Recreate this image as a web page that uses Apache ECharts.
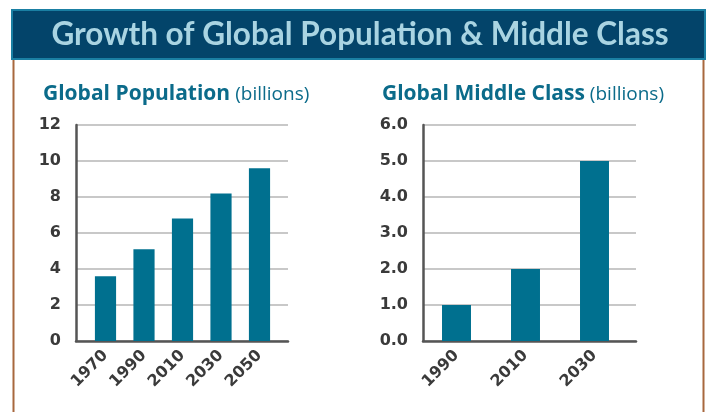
<!DOCTYPE html>
<html><head><meta charset="utf-8">
<script src="https://cdn.jsdelivr.net/npm/echarts@6/dist/echarts.min.js"></script>
<style>html,body{margin:0;padding:0;background:#fff}#c{width:709px;height:412px}</style>
</head><body><div id="c"></div>
<script>
const popYears = ['1970','1990','2010','2030','2050'];
const popValues = [3.6, 5.1, 6.8, 8.2, 9.6];
const popTicks = [0, 2, 4, 6, 8, 10, 12];
const mcYears = ['1990','2010','2030'];
const mcValues = [1.0, 2.0, 5.0];
const mcTicks = ['0.0','1.0','2.0','3.0','4.0','5.0','6.0'];

const HFONT = 'Lato, "Noto Sans", sans-serif';
const TFONT = '"Open Sans", "Noto Sans", sans-serif';
const NFONT = '"DejaVu Sans", sans-serif';
const BAR = '#00708f';
const TEAL = '#0b6b8a';
const LBL = '#3a3a3a';
const chart = echarts.init(document.getElementById('c'), null, {renderer:'canvas'});

function yAxisBase(gi, max, interval, fmt){
  return {gridIndex:gi, type:'value', min:0, max:max, interval:interval,
    axisLine:{show:true, lineStyle:{color:'#555', width:2.5}},
    axisTick:{show:false},
    splitLine:{show:true, lineStyle:{color:'#c8c8c8', width:2}},
    axisLabel:{color:LBL, fontFamily:NFONT, fontWeight:'bold', fontSize:16, margin:15, formatter:fmt}};
}
function yHidden(gi, max){ return {gridIndex:gi, type:'value', min:0, max:max, show:false}; }
function xFrame(gi, n){ return {gridIndex:gi, type:'category', data:Array(n).fill(''),
    axisLine:{show:true, lineStyle:{color:'#555', width:2.5}}, axisTick:{show:false}, axisLabel:{show:false}}; }
function xCats(gi, data){ return {gridIndex:gi, type:'category', data:data,
    axisLine:{show:false}, axisTick:{show:false},
    axisLabel:{rotate:45, margin:12, color:LBL, fontFamily:NFONT, fontWeight:'bold', fontSize:16}}; }

const titleRich = {b:{fontFamily:TFONT, fontWeight:'bold', fontSize:21, color:TEAL},
                   n:{fontFamily:TFONT, fontWeight:'normal', fontSize:19, color:TEAL}};
chart.setOption({
  animation:false,
  graphic:[
    {type:'rect', shape:{x:12, y:10, width:693, height:49}, style:{fill:'#03446a', stroke:'#1a7fa3', lineWidth:2}},
    {type:'text', x:360, y:35, style:{text:'Growth of Global Population & Middle Class', fill:'#a9d4e2',
      font:'bold 31.5px ' + HFONT, align:'center', verticalAlign:'middle'}},
    {type:'rect', shape:{x:12.5, y:60, width:2, height:352}, style:{fill:'#a8683e'}},
    {type:'rect', shape:{x:702.5, y:60, width:2, height:352}, style:{fill:'#a8683e'}}
  ],
  title:[
    {text:'{b|Global Population} {n|(billions)}', left:38, top:79, textStyle:{fontWeight:'normal', rich:titleRich}},
    {text:'{b|Global Middle Class} {n|(billions)}', left:377, top:79, textStyle:{fontWeight:'normal', rich:titleRich}}
  ],
  grid:[
    {left:76, top:125, width:212, height:216},
    {left:86.25, top:125, width:192.5, height:216},
    {left:423, top:125, width:213, height:216},
    {left:422, top:125, width:207, height:216}
  ],
  xAxis:[ xFrame(0, popYears.length), xCats(1, popYears), xFrame(2, mcYears.length), xCats(3, mcYears) ],
  yAxis:[
    yAxisBase(0, popTicks[popTicks.length-1], popTicks[1]-popTicks[0], v=>String(v)),
    yHidden(1, popTicks[popTicks.length-1]),
    yAxisBase(2, Number(mcTicks[mcTicks.length-1]), 1, v=>v.toFixed(1)),
    yHidden(3, Number(mcTicks[mcTicks.length-1]))
  ],
  series:[
    {type:'bar', xAxisIndex:1, yAxisIndex:1, data:popValues, barWidth:'55%', itemStyle:{color:BAR}},
    {type:'bar', xAxisIndex:3, yAxisIndex:3, data:mcValues, barWidth:'42%', itemStyle:{color:BAR}}
  ]
});
</script></body></html>
